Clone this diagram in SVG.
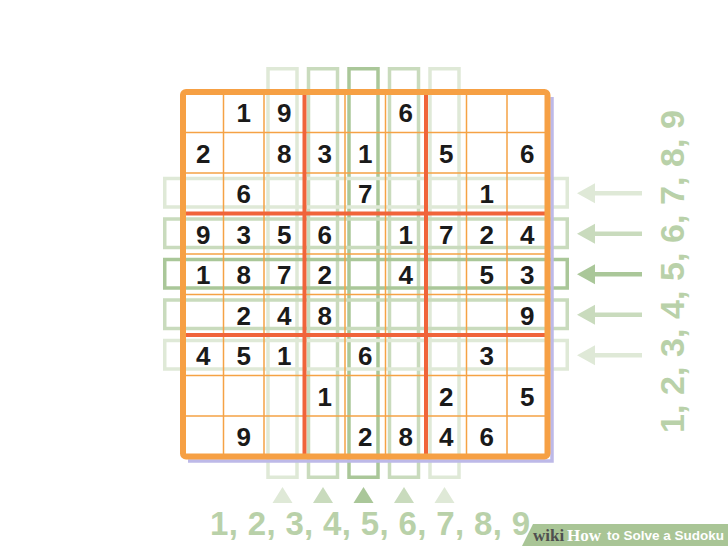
<svg xmlns="http://www.w3.org/2000/svg" width="728" height="546" viewBox="0 0 728 546">
<style>
.g1{stroke:#DFE9D7}
.g2{stroke:#C9DBBD}
.g3{stroke:#AAC799}
.f1{fill:#DFE9D7}
.f2{fill:#C9DBBD}
.f3{fill:#AAC799}
.box{fill:none;stroke-width:3.5}
.thin{stroke:#F5A245;stroke-width:1.5}
.red{stroke:#F0643A;stroke-width:4}
.d{font-family:"Liberation Sans",Arial,sans-serif;font-weight:bold;font-size:26px;fill:#1a1a1a;text-anchor:middle}
.lab{font-family:"Liberation Sans",Arial,sans-serif;font-weight:bold;font-size:33px;fill:#B9D1A9}
</style>
<rect width="728" height="546" fill="#ffffff"/>
<g id="highlights">
<rect class="box g1" x="268" y="68.75" width="29" height="408.5"/>
<rect class="box g2" x="308.5" y="68.75" width="29" height="408.5"/>
<rect class="box g3" x="349" y="68.75" width="29" height="408.5"/>
<rect class="box g2" x="389.5" y="68.75" width="29" height="408.5"/>
<rect class="box g1" x="430" y="68.75" width="29" height="408.5"/>
<rect class="box g1" x="164.75" y="178.5" width="402.5" height="28.5"/>
<rect class="box g2" x="164.75" y="219" width="402.5" height="28.5"/>
<rect class="box g3" x="164.75" y="259.5" width="402.5" height="28.5"/>
<rect class="box g2" x="164.75" y="300" width="402.5" height="28.5"/>
<rect class="box g1" x="164.75" y="340.5" width="402.5" height="28.5"/>
</g>
<g id="grid">
<path d="M552 97 V461 H188" fill="none" stroke="#BDB9E8" stroke-width="3.5"/>
<g class="thin">
<line x1="223.5" y1="92" x2="223.5" y2="456.5"/>
<line x1="264" y1="92" x2="264" y2="456.5"/>
<line x1="345" y1="92" x2="345" y2="456.5"/>
<line x1="385.5" y1="92" x2="385.5" y2="456.5"/>
<line x1="466.5" y1="92" x2="466.5" y2="456.5"/>
<line x1="507" y1="92" x2="507" y2="456.5"/>
<line x1="183" y1="132.5" x2="547.5" y2="132.5"/>
<line x1="183" y1="173" x2="547.5" y2="173"/>
<line x1="183" y1="254" x2="547.5" y2="254"/>
<line x1="183" y1="294.5" x2="547.5" y2="294.5"/>
<line x1="183" y1="375.5" x2="547.5" y2="375.5"/>
<line x1="183" y1="416" x2="547.5" y2="416"/>
</g>
<g class="red">
<line x1="304.5" y1="92" x2="304.5" y2="456.5"/>
<line x1="426" y1="92" x2="426" y2="456.5"/>
<line x1="183" y1="213.5" x2="547.5" y2="213.5"/>
<line x1="183" y1="335" x2="547.5" y2="335"/>
</g>
<rect x="183" y="92" width="364.5" height="364.5" rx="3" fill="none" stroke="#F6A044" stroke-width="6"/>
</g>
<g id="digits" class="d">
<text x="243.75" y="122">1</text><text x="284.25" y="122">9</text><text x="405.75" y="122">6</text>
<text x="203.25" y="162.5">2</text><text x="284.25" y="162.5">8</text><text x="324.75" y="162.5">3</text><text x="365.25" y="162.5">1</text><text x="446.25" y="162.5">5</text><text x="527.25" y="162.5">6</text>
<text x="243.75" y="203">6</text><text x="365.25" y="203">7</text><text x="486.75" y="203">1</text>
<text x="203.25" y="243.5">9</text><text x="243.75" y="243.5">3</text><text x="284.25" y="243.5">5</text><text x="324.75" y="243.5">6</text><text x="405.75" y="243.5">1</text><text x="446.25" y="243.5">7</text><text x="486.75" y="243.5">2</text><text x="527.25" y="243.5">4</text>
<text x="203.25" y="284">1</text><text x="243.75" y="284">8</text><text x="284.25" y="284">7</text><text x="324.75" y="284">2</text><text x="405.75" y="284">4</text><text x="486.75" y="284">5</text><text x="527.25" y="284">3</text>
<text x="243.75" y="324.5">2</text><text x="284.25" y="324.5">4</text><text x="324.75" y="324.5">8</text><text x="527.25" y="324.5">9</text>
<text x="203.25" y="365">4</text><text x="243.75" y="365">5</text><text x="284.25" y="365">1</text><text x="365.25" y="365">6</text><text x="486.75" y="365">3</text>
<text x="324.75" y="405.5">1</text><text x="446.25" y="405.5">2</text><text x="527.25" y="405.5">5</text>
<text x="243.75" y="446">9</text><text x="365.25" y="446">2</text><text x="405.75" y="446">8</text><text x="446.25" y="446">4</text><text x="486.75" y="446">6</text>
</g>
<g id="arrows">
<g stroke-width="4.5">
<line class="g1" x1="592" y1="193.25" x2="642" y2="193.25"/>
<line class="g2" x1="592" y1="233.75" x2="642" y2="233.75"/>
<line class="g3" x1="592" y1="274.25" x2="642" y2="274.25"/>
<line class="g2" x1="592" y1="314.75" x2="642" y2="314.75"/>
<line class="g1" x1="592" y1="355.25" x2="642" y2="355.25"/>
</g>
<polygon class="f1" points="577,193.25 595,183.25 595,203.25"/>
<polygon class="f2" points="577,233.75 595,223.75 595,243.75"/>
<polygon class="f3" points="577,274.25 595,264.25 595,284.25"/>
<polygon class="f2" points="577,314.75 595,304.75 595,324.75"/>
<polygon class="f1" points="577,355.25 595,345.25 595,365.25"/>
<polygon class="f1" points="282.5,487 272.5,503 292.5,503"/>
<polygon class="f2" points="323,487 313,503 333,503"/>
<polygon class="f3" points="363.5,487 353.5,503 373.5,503"/>
<polygon class="f2" points="404,487 394,503 414,503"/>
<polygon class="f1" points="444.5,487 434.5,503 454.5,503"/>
</g>
<g id="labels">
<text class="lab" x="210" y="535" textLength="320" lengthAdjust="spacing">1, 2, 3, 4, 5, 6, 7, 8, 9</text>
<text class="lab" transform="translate(684,433) rotate(-90)" x="0" y="0" style="font-size:34px" textLength="323" lengthAdjust="spacing">1, 2, 3, 4, 5, 6, 7, 8, 9</text>
</g>
<g id="watermark">
<polygon points="533,524 728,524 728,546 522,546" fill="#A9C596"/>
<text x="533" y="541" font-family="'Liberation Serif','Times New Roman',serif" font-weight="bold" font-size="17" fill="#4f4f4f">wiki</text>
<text x="567" y="541" font-family="'Liberation Serif','Times New Roman',serif" font-weight="bold" font-size="17" fill="#ffffff">How</text>
<text x="607" y="540" font-family="'Liberation Sans',Arial,sans-serif" font-weight="bold" font-size="13.5" fill="#ffffff">to Solve a Sudoku</text>
</g>
</svg>
